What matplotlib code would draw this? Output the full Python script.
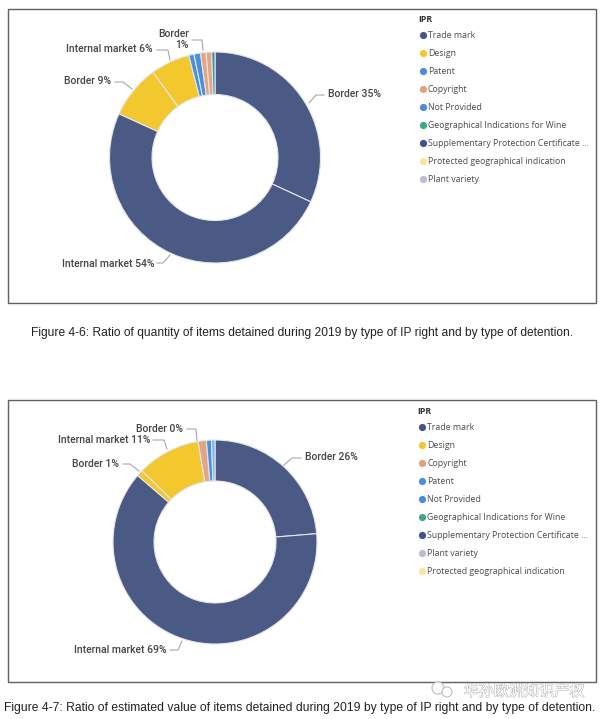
import matplotlib
matplotlib.use("Agg")
import matplotlib.pyplot as plt
from matplotlib.patches import Rectangle, Circle
import matplotlib.patheffects as pe

W, H = 602, 719

NAVY, YEL, BLUE, COP, TEAL, LBLUE = "#4A5A85", "#F2C82E", "#4A8FDC", "#E3A583", "#3F8FA0", "#7DB4EA"

values_1 = [31.9, 49.9, 8.2, 6.0, 0.8, 1.0, 0.85, 0.85, 0.5]
colors_1 = [NAVY, NAVY, YEL, YEL, BLUE, BLUE, COP, COP, TEAL]
values_2 = [23.7, 62.6, 1.0, 10.05, 1.3, 0.8, 0.55]
colors_2 = [NAVY, NAVY, YEL, YEL, COP, BLUE, LBLUE]

legend_names_1 = ["Trade mark", "Design", "Patent", "Copyright", "Not Provided",
                  "Geographical Indications for Wine", "Supplementary Protection Certificate ...",
                  "Protected geographical indication", "Plant variety"]
legend_colors_1 = ["#46548A", "#F2C82E", "#4A8FDC", "#E3A07E", "#4A8BE0", "#3BAA7C", "#3F5290", "#FBE59A", "#B9BED2"]
legend_names_2 = ["Trade mark", "Design", "Copyright", "Patent", "Not Provided",
                  "Geographical Indications for Wine", "Supplementary Protection Certificate ...",
                  "Plant variety", "Protected geographical indication"]
legend_colors_2 = ["#46548A", "#F2C82E", "#E3A07E", "#4A8FDC", "#4A8BE0", "#3BAA7C", "#3F5290", "#B9BED2", "#FBE59A"]

caption_1 = "Figure 4-6: Ratio of quantity of items detained during 2019 by type of IP right and by type of detention."
caption_2 = "Figure 4-7: Ratio of estimated value of items detained during 2019 by type of IP right and by type of detention."
watermark = "华孙欧洲知识产权"

labels_1 = [("Border 35%", 328, 94, "left"), ("Internal market 54%", 154, 264, "right"),
            ("Border 9%", 111, 81, "right"), ("Internal market 6%", 153, 49, "right"),
            ("Border", 189, 34, "right"), ("1%", 189, 45, "right")]
labels_2 = [("Border 26%", 305, 457, "left"), ("Internal market 69%", 167, 650, "right"),
            ("Border 1%", 119, 464, "right"), ("Internal market 11%", 150, 440, "right"),
            ("Border 0%", 183, 429, "right")]
leaders_1 = [[(309, 103), (316, 95), (324, 95)], [(157, 263), (163, 263), (170, 255)],
             [(115, 82), (123, 82), (132, 89)], [(157, 50), (168, 50), (170, 60)],
             [(192, 40), (202, 40), (203, 50)]]
leaders_2 = [[(283, 466), (292, 458), (301, 458)], [(170, 650), (178, 650), (182, 641)],
             [(123, 464), (130, 464), (139, 471)], [(153, 440), (164, 440), (167, 449)],
             [(187, 429), (196, 429), (197, 441)]]

fig = plt.figure(figsize=(W / 100, H / 100), dpi=100, facecolor="white")
bg = fig.add_axes([0, 0, 1, 1])
bg.set_xlim(0, W)
bg.set_ylim(H, 0)
bg.axis("off")


def donut(values, colors, cx, cy, r, inner):
    ax = fig.add_axes([(cx - r) / W, 1 - (cy + r) / H, 2 * r / W, 2 * r / H])
    ax.pie(values, colors=colors, startangle=90, counterclock=False, radius=1,
           wedgeprops=dict(width=1 - inner / r, edgecolor="#E4E6EE", linewidth=0.8))
    ax.set_xlim(-1, 1)
    ax.set_ylim(-1, 1)
    ax.set_aspect("equal")
    ax.axis("off")


def panel(box, values, colors, centre, names, cols, labels, leaders, ipr_y, first_y, leg_x):
    x0, y0, x1, y1 = box
    bg.add_patch(Rectangle((x0, y0), x1 - x0, y1 - y0, fill=False, ec="#606060", lw=1.0))
    donut(values, colors, *centre)
    for txt, x, y, ha in labels:
        bg.text(x, y, txt, ha=ha, va="center", fontsize=7.45, family="Roboto",
                weight="medium", color="#444444")
    for pts in leaders:
        bg.plot([p[0] for p in pts], [p[1] for p in pts], color="#A8A8A8", lw=0.8)
    bg.text(leg_x - 5, ipr_y, "IPR", fontsize=6.3, family="Open Sans", weight="bold",
            color="#333333", va="center")
    for i, (n, c) in enumerate(zip(names, cols)):
        y = first_y + i * 18.05
        bg.scatter([leg_x], [y], s=27, color=c, linewidths=0, zorder=3)
        bg.text(leg_x + 5, y, n, fontsize=6.3, family="Open Sans", color="#4A4A4A", va="center")


panel((8, 9, 596, 303), values_1, colors_1, (215, 157.5, 105.5, 63), legend_names_1,
      legend_colors_1, labels_1, leaders_1, 20, 35, 423)
panel((8, 400, 596, 682), values_2, colors_2, (215, 542, 102, 61), legend_names_2,
      legend_colors_2, labels_2, leaders_2, 411, 427, 422)

bg.text(302, 333, caption_1, ha="center", va="center", fontsize=8.63, family="Liberation Sans", color="#222222")
bg.text(299.5, 708, caption_2, ha="center", va="center", fontsize=8.72, family="Liberation Sans", color="#222222")

bg.text(524, 691.5, watermark, ha="center", va="center", fontsize=10.9, family="Noto Sans CJK SC",
        color="white", path_effects=[pe.withStroke(linewidth=0.6, foreground="#A8A8A8")])
bg.add_patch(Circle((438, 688), 6, fill=True, fc="white", ec="#BEBEBE", lw=0.8))
bg.add_patch(Circle((447, 692), 5, fill=True, fc="white", ec="#BEBEBE", lw=0.8))

fig.savefig("out.png", dpi=100, facecolor="white")
